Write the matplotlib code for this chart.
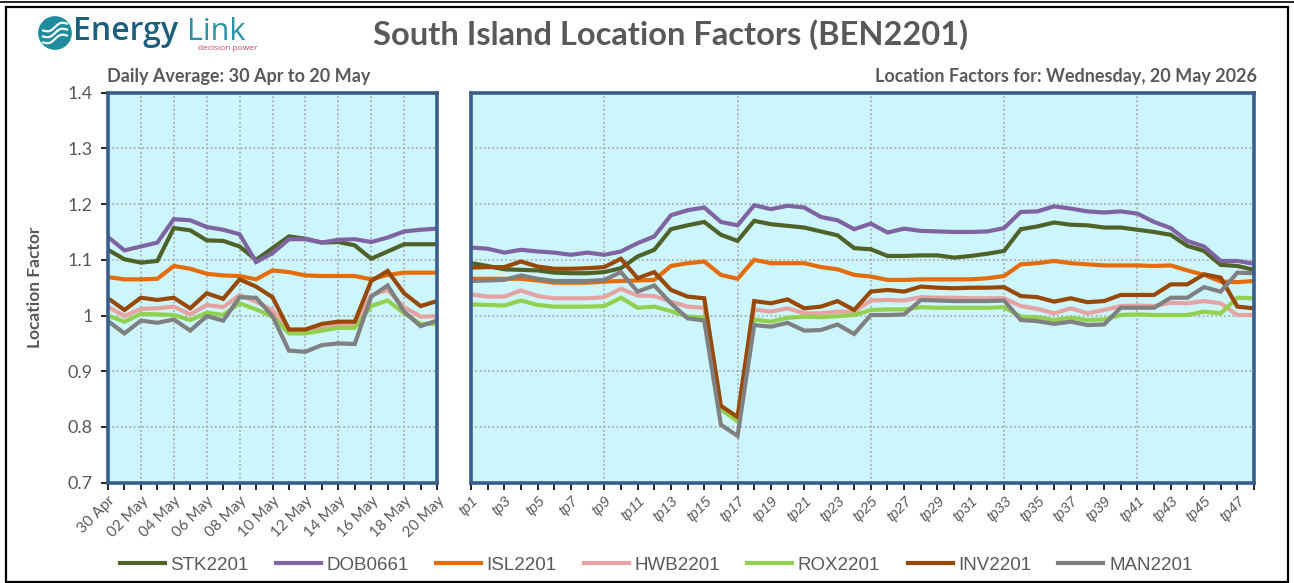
import matplotlib
matplotlib.use("Agg")
import matplotlib.pyplot as plt
import numpy as np
from matplotlib.patches import Circle, Rectangle
from matplotlib.ticker import FuncFormatter, FixedLocator

# ---------------- data ----------------
days = ["30 Apr", "01 May", "02 May", "03 May", "04 May", "05 May", "06 May", "07 May",
        "08 May", "09 May", "10 May", "11 May", "12 May", "13 May", "14 May", "15 May",
        "16 May", "17 May", "18 May", "19 May", "20 May"]
tps = [f"tp{i}" for i in range(1, 49)]

series_names = ["STK2201", "DOB0661", "ISL2201", "HWB2201", "ROX2201", "INV2201", "MAN2201"]
series_colors = ["#4F6228", "#8064A2", "#E46C0A", "#E6A3A1", "#92D050", "#984807", "#808080"]

daily_STK = [1.118, 1.101, 1.095, 1.098, 1.157, 1.153, 1.135, 1.134, 1.124, 1.100, 1.121,
             1.142, 1.138, 1.131, 1.132, 1.126, 1.102, 1.115, 1.128, 1.128, 1.128]
daily_DOB = [1.141, 1.117, 1.124, 1.131, 1.173, 1.171, 1.159, 1.154, 1.146, 1.096, 1.112,
             1.137, 1.137, 1.131, 1.136, 1.137, 1.132, 1.140, 1.151, 1.154, 1.156]
daily_ISL = [1.069, 1.065, 1.065, 1.066, 1.089, 1.084, 1.075, 1.072, 1.071, 1.065, 1.081,
             1.078, 1.072, 1.071, 1.071, 1.071, 1.065, 1.073, 1.077, 1.077, 1.077]
daily_HWB = [1.016, 0.999, 1.012, 1.013, 1.016, 1.002, 1.019, 1.015, 1.037, 1.025, 1.010,
             0.971, 0.971, 0.977, 0.982, 0.982, 1.037, 1.046, 1.015, 0.998, 0.999]
daily_ROX = [1.000, 0.989, 1.003, 1.002, 1.001, 0.992, 1.005, 1.001, 1.022, 1.011, 0.998,
             0.968, 0.968, 0.973, 0.978, 0.978, 1.017, 1.027, 1.004, 0.985, 0.985]
daily_INV = [1.031, 1.010, 1.032, 1.028, 1.032, 1.013, 1.040, 1.030, 1.065, 1.052, 1.033,
             0.975, 0.975, 0.985, 0.989, 0.989, 1.062, 1.080, 1.040, 1.017, 1.026]
daily_MAN = [0.990, 0.968, 0.991, 0.987, 0.993, 0.973, 0.999, 0.991, 1.033, 1.032, 0.999,
             0.937, 0.935, 0.947, 0.950, 0.949, 1.034, 1.054, 1.007, 0.981, 0.991]

tp_STK = [1.094, 1.089, 1.083, 1.082, 1.081, 1.077, 1.076, 1.076, 1.078, 1.085, 1.106, 1.118,
          1.155, 1.162, 1.168, 1.145, 1.134, 1.170, 1.164, 1.161, 1.158, 1.151, 1.144, 1.121,
          1.119, 1.107, 1.107, 1.108, 1.108, 1.104, 1.107, 1.111, 1.116, 1.155, 1.160, 1.167,
          1.163, 1.162, 1.158, 1.158, 1.154, 1.150, 1.145, 1.125, 1.116, 1.091, 1.089, 1.082]
tp_DOB = [1.122, 1.120, 1.113, 1.118, 1.115, 1.113, 1.109, 1.113, 1.109, 1.115, 1.130, 1.142,
          1.180, 1.189, 1.194, 1.168, 1.162, 1.198, 1.191, 1.197, 1.194, 1.177, 1.171, 1.155,
          1.165, 1.149, 1.156, 1.152, 1.151, 1.150, 1.150, 1.151, 1.157, 1.186, 1.187, 1.196,
          1.192, 1.187, 1.185, 1.187, 1.183, 1.168, 1.157, 1.134, 1.124, 1.098, 1.098, 1.093]
tp_ISL = [1.066, 1.066, 1.066, 1.066, 1.063, 1.059, 1.059, 1.059, 1.061, 1.062, 1.063, 1.064,
          1.089, 1.094, 1.097, 1.073, 1.066, 1.100, 1.094, 1.094, 1.094, 1.087, 1.083, 1.073,
          1.070, 1.064, 1.064, 1.065, 1.065, 1.065, 1.065, 1.067, 1.071, 1.092, 1.094, 1.098,
          1.094, 1.092, 1.090, 1.090, 1.090, 1.089, 1.090, 1.081, 1.073, 1.061, 1.060, 1.062]
tp_HWB = [1.038, 1.034, 1.034, 1.045, 1.035, 1.031, 1.031, 1.031, 1.033, 1.048, 1.036, 1.035,
          1.025, 1.016, 1.014, 0.831, 0.813, 1.011, 1.007, 1.013, 1.004, 1.004, 1.007, 1.007,
          1.027, 1.028, 1.027, 1.033, 1.032, 1.032, 1.031, 1.031, 1.031, 1.017, 1.012, 1.004,
          1.013, 1.004, 1.010, 1.017, 1.018, 1.017, 1.023, 1.022, 1.026, 1.022, 1.001, 1.001]
tp_ROX = [1.020, 1.019, 1.018, 1.027, 1.019, 1.016, 1.016, 1.016, 1.017, 1.032, 1.014, 1.016,
          1.008, 0.998, 0.997, 0.832, 0.810, 0.993, 0.989, 0.996, 0.998, 0.997, 0.999, 1.001,
          1.010, 1.011, 1.011, 1.015, 1.014, 1.014, 1.014, 1.014, 1.015, 0.998, 0.997, 0.992,
          0.996, 0.992, 0.993, 1.001, 1.002, 1.001, 1.001, 1.001, 1.007, 1.004, 1.032, 1.031]
tp_INV = [1.086, 1.087, 1.087, 1.097, 1.088, 1.084, 1.084, 1.085, 1.087, 1.102, 1.067, 1.078,
          1.046, 1.034, 1.031, 0.838, 0.818, 1.026, 1.022, 1.029, 1.013, 1.016, 1.026, 1.010,
          1.043, 1.046, 1.043, 1.052, 1.050, 1.049, 1.050, 1.050, 1.051, 1.035, 1.033, 1.025,
          1.031, 1.024, 1.026, 1.037, 1.037, 1.037, 1.056, 1.056, 1.074, 1.068, 1.016, 1.013]
tp_MAN = [1.062, 1.063, 1.064, 1.072, 1.066, 1.062, 1.062, 1.062, 1.064, 1.078, 1.043, 1.054,
          1.022, 0.995, 0.991, 0.804, 0.784, 0.983, 0.980, 0.987, 0.973, 0.974, 0.984, 0.967,
          1.001, 1.001, 1.002, 1.028, 1.027, 1.026, 1.026, 1.026, 1.027, 0.992, 0.990, 0.985,
          0.989, 0.983, 0.984, 1.014, 1.014, 1.014, 1.032, 1.032, 1.051, 1.043, 1.077, 1.076]

daily_series = [daily_STK, daily_DOB, daily_ISL, daily_HWB, daily_ROX, daily_INV, daily_MAN]
tp_series = [tp_STK, tp_DOB, tp_ISL, tp_HWB, tp_ROX, tp_INV, tp_MAN]

y_ticks = [0.7, 0.8, 0.9, 1.0, 1.1, 1.2, 1.3, 1.4]

# ---------------- styling ----------------
W, H = 1294, 583
fig = plt.figure(figsize=(W / 100, H / 100), dpi=100)
fig.patch.set_facecolor("white")

GRAY = "#595959"
BG = "#CCF5FC"
FRAME = "#3A5E8C"
NARROW = ["Liberation Sans Narrow", "Liberation Sans", "DejaVu Sans"]
BOLDF = ["Lato", "DejaVu Sans"]


def fx(px):
    return px / W


def fy(py):
    return 1 - py / H


# outer frame
fig.add_artist(Rectangle((fx(6), fy(582)), fx(1288) - fx(6), fy(7) - fy(582),
                         transform=fig.transFigure, fill=False, edgecolor="black", lw=1.6))
fig.add_artist(plt.Line2D([0, 1], [fy(2), fy(2)], transform=fig.transFigure,
                          color="black", lw=1.2))

top_px, bot_px = 92.7, 482.7
axL = fig.add_axes([fx(108), fy(bot_px), fx(437) - fx(108), fy(top_px) - fy(bot_px)])
axR = fig.add_axes([fx(471), fy(bot_px), fx(1254) - fx(471), fy(top_px) - fy(bot_px)])


def style_axis(ax, n, labels, label_step, italic):
    ax.set_facecolor(BG)
    ax.set_xlim(0, n - 1)
    ax.set_ylim(0.7, 1.4)
    ax.set_yticks(y_ticks)
    for s in ax.spines.values():
        s.set_color(FRAME)
        s.set_linewidth(2.6)
    ax.grid(True, axis="y", color="#A6A6A6", linestyle=(0, (1.2, 1.6)), lw=1.1)
    ax.xaxis.set_major_locator(FixedLocator(list(range(0, n))))
    ax.set_xticklabels([labels[i] if i % label_step == 0 else "" for i in range(n)],
                       rotation=45, ha="right", rotation_mode="anchor",
                       fontsize=11 if not italic else 10.5, color=GRAY,
                       style="italic" if italic else "normal",
                       family=NARROW if italic else ["Lato", "DejaVu Sans"])
    ax.tick_params(axis="x", length=5, width=1.2, color="black", pad=3)
    ax.set_axisbelow(True)


style_axis(axL, len(days), days, 2, False)
style_axis(axR, len(tps), tps, 2, True)

# vertical dotted gridlines
for ax, step, n in ((axL, 2, len(days)), (axR, 8, len(tps))):
    for xv in range(step, n - 1, step):
        ax.axvline(xv, color="#A6A6A6", linestyle=(0, (1.2, 1.6)), lw=1.1, zorder=0.5)

axL.yaxis.set_major_formatter(FuncFormatter(lambda v, p: f"{v:g}"))
axL.tick_params(axis="y", length=5, width=1.2, color="black", labelsize=13,
                labelcolor=GRAY, pad=6)
for t in axL.get_yticklabels():
    t.set_family(["Lato", "DejaVu Sans"])
axR.tick_params(axis="y", left=False, labelleft=False)

xd = np.arange(len(days))
xt = np.arange(len(tps))
for name, col, ds, ts in zip(series_names, series_colors, daily_series, tp_series):
    axL.plot(xd, ds, color=col, lw=3.0, solid_joinstyle="miter", label=name, clip_on=True)
    axR.plot(xt, ts, color=col, lw=3.0, solid_joinstyle="miter", clip_on=True)

axL.set_ylabel("Location Factor", fontsize=12.5, fontweight="bold", color=GRAY,
               family=BOLDF, labelpad=18)

# titles
fig.text(fx(671), fy(35), "South Island Location Factors (BEN2201)", ha="center",
         va="center", fontsize=23.5, fontweight="bold", color=GRAY, family=BOLDF)
fig.text(fx(107), fy(76), "Daily Average: 30 Apr to 20 May", ha="left", va="center",
         fontsize=13, fontweight="bold", color=GRAY, family=BOLDF)
fig.text(fx(1257), fy(76), "Location Factors for: Wednesday, 20 May 2026", ha="right",
         va="center", fontsize=13, fontweight="bold", color=GRAY, family=BOLDF)

# logo
lax = fig.add_axes([fx(38), fy(52), fx(72) - fx(38), fy(14) - fy(52)])
lax.set_xlim(-1, 1)
lax.set_ylim(-1, 1)
lax.set_aspect("equal")
lax.axis("off")
lax.add_patch(Circle((0, 0), 0.95, color="#1E8C9E"))
tt = np.linspace(-0.7, 0.7, 50)
for off in (-0.35, 0.0, 0.35):
    lax.plot(tt, off + 0.12 * np.sin(tt * 5) + 0.35 * tt, color="white", lw=1.6)
fig.text(fx(73), fy(32), "Energy", ha="left", va="center", fontsize=23,
         fontweight="semibold", color="#1C5F7C", family=["Open Sans", "DejaVu Sans"])
fig.text(fx(187), fy(32), "Link", ha="left", va="center", fontsize=22,
         color="#2A93A8", family=["Open Sans", "DejaVu Sans"])
fig.text(fx(198), fy(48), "decision power", ha="left", va="center", fontsize=6,
         color="#C2456C", family=["Open Sans", "DejaVu Sans"])

# legend
handles, labels = axL.get_legend_handles_labels()
leg = fig.legend(handles, labels, loc="center", bbox_to_anchor=(fx(656), fy(565)),
                 ncol=7, frameon=False, handlelength=2.4,
                 columnspacing=1.45, handletextpad=0.3,
                 prop={"family": NARROW, "size": 13.5})
for t in leg.get_texts():
    t.set_color(GRAY)

fig.savefig("out.png", dpi=100, facecolor="white")
